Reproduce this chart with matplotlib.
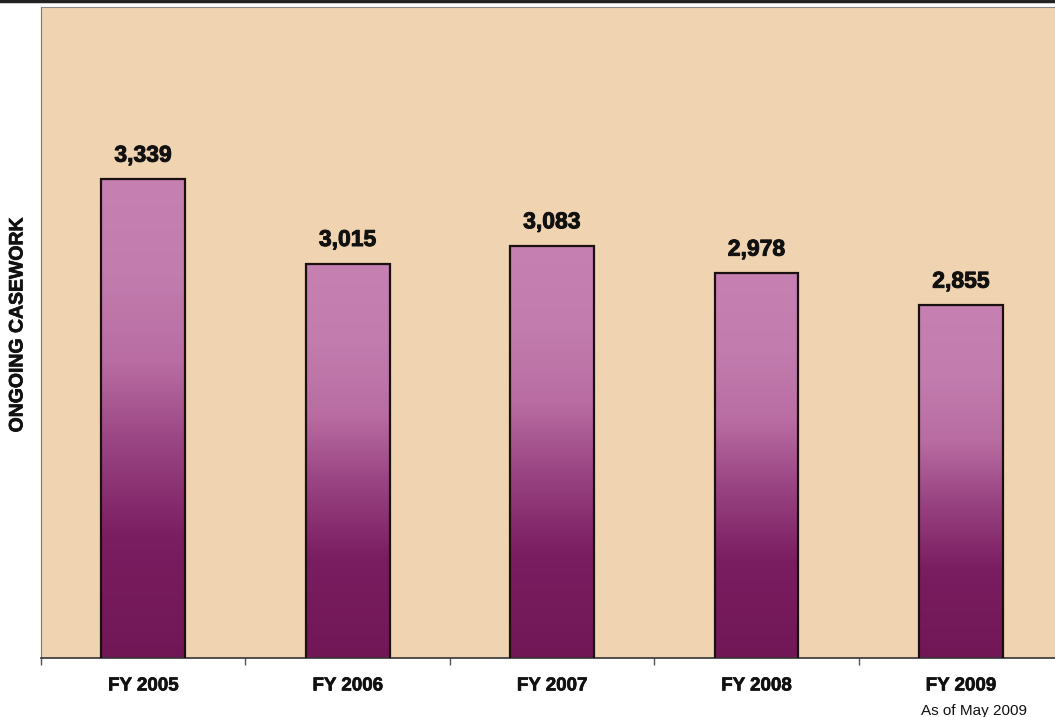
import numpy as np
import matplotlib.pyplot as plt
import matplotlib.patheffects as pe
from matplotlib.colors import LinearSegmentedColormap
from matplotlib.lines import Line2D

# Data
years = ["FY 2005", "FY 2006", "FY 2007", "FY 2008", "FY 2009"]
casework = [3339, 3015, 3083, 2978, 2855]
value_labels = ["3,339", "3,015", "3,083", "2,978", "2,855"]
footnote = "As of May 2009"

plt.rcParams['font.family'] = ['Liberation Sans', 'DejaVu Sans']

fig = plt.figure(figsize=(10.55, 7.17), dpi=100)
ax = fig.add_axes([0.0389, 0.0823, 0.9687, 0.9079])
ax.set_facecolor('#f0d3b1')

x = np.arange(len(years))
bars = ax.bar(x, casework, width=0.41, facecolor='none',
              edgecolor='#1a1010', linewidth=1.6, zorder=3)

# vertical gradient inside each bar (dark at bottom, light mauve at top)
cmap = LinearSegmentedColormap.from_list("mauve", [
    (0.0, '#711756'), (0.25, '#7a1d61'), (0.45, '#9a4583'),
    (0.62, '#b96da2'), (0.8, '#c27cae'), (1.0, '#c680b2')])
grad = np.linspace(0, 1, 256).reshape(-1, 1)
for b in bars:
    x0, w, h = b.get_x(), b.get_width(), b.get_height()
    ax.imshow(grad, cmap=cmap, origin='lower', aspect='auto',
              extent=(x0, x0 + w, 1500, h), zorder=2, interpolation='bicubic')
ax.set_xlim(-0.5, 4.5)
ax.set_ylim(1500, 4000)

bold_fx = [pe.withStroke(linewidth=0.7, foreground='#111111')]
for b, lab in zip(bars, value_labels):
    ax.annotate(lab, (b.get_x() + b.get_width() / 2, b.get_height()),
                xytext=(0, 9), textcoords='offset points', ha='center',
                va='bottom', fontsize=16.5, fontweight='bold', color='#111111',
                path_effects=bold_fx)

# axes styling
ax.set_yticks([])
ax.set_xticks(x)
ax.set_xticklabels(years, fontsize=13.5, fontweight='bold', color='#111111')
for t in ax.get_xticklabels():
    t.set_path_effects([pe.withStroke(linewidth=0.5, foreground='#111111')])
ax.tick_params(axis='x', which='major', length=0, pad=14)
ax.set_xticks(np.arange(-0.5, 5, 1.0), minor=True)
ax.tick_params(axis='x', which='minor', length=5, width=1, color='#555555')
ax.spines['right'].set_visible(False)
ax.spines['left'].set_color('#777777')
ax.spines['top'].set_color('#8a8a8a')
ax.spines['bottom'].set_color('#333333')
ax.spines['bottom'].set_linewidth(1.2)

ax.text(4.065, -0.082, footnote, transform=ax.get_xaxis_transform(),
        ha='center', va='center', fontsize=11, color='#111111')

fig.text(0.017, 0.547, "ONGOING CASEWORK", rotation=90, ha='center',
         va='center', fontsize=14, fontweight='bold', color='#111111',
         path_effects=[pe.withStroke(linewidth=0.5, foreground='#111111')])

# dark scan edge along the top
fig.add_artist(Line2D([0, 1], [0.998, 0.998], transform=fig.transFigure,
                      color='#222222', linewidth=2.5))

fig.savefig("out.png", dpi=100)
